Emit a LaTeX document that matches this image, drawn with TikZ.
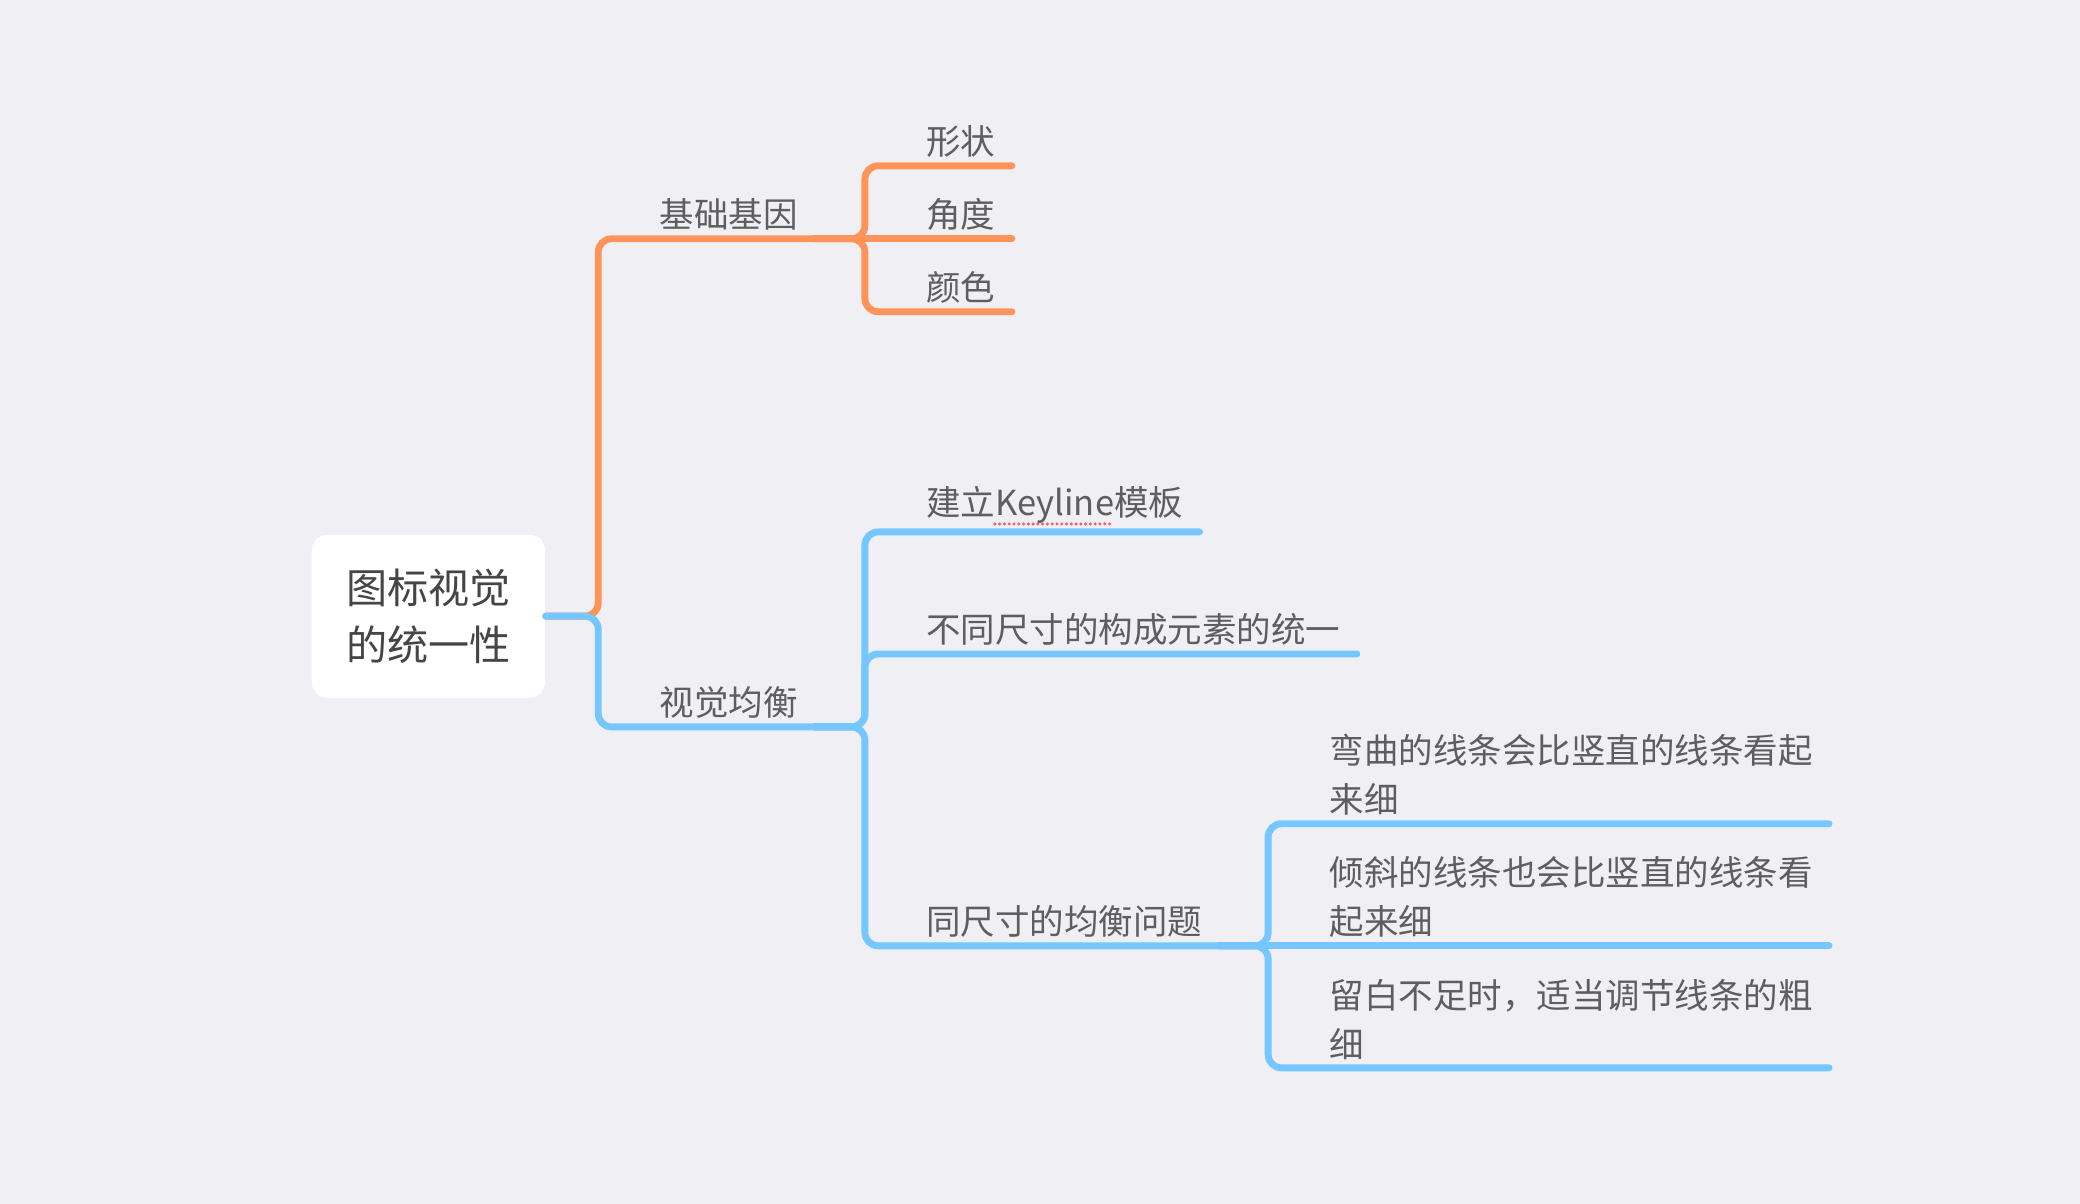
\documentclass[tikz,border=0pt]{standalone}
\usepackage{fontspec}
\setmainfont{Noto Sans CJK SC}
\definecolor{bgcol}{HTML}{EFEFF4}
\definecolor{orangeline}{HTML}{FF945B}
\definecolor{blueline}{HTML}{76C6FF}
\definecolor{textgray}{HTML}{5E5E5E}
\definecolor{rootgray}{HTML}{454545}
\definecolor{spellred}{HTML}{F0646E}

\begin{document}
\begin{tikzpicture}[x=0.5pt,y=-0.5pt,
		topic/.style={anchor=south west,inner xsep=0pt,inner ysep=3pt,text=textgray,
			font=\fontsize{13pt}{18.5pt}\selectfont,align=left},
		orangebranch/.style={draw=orangeline,line width=2.6pt,line cap=round,rounded corners=5pt},
		bluebranch/.style={draw=blueline,line width=2.6pt,line cap=round,rounded corners=5pt}
	]
	\fill[bgcol] (0,0) rectangle (1568,907.6);
	\useasboundingbox (0,0) rectangle (1568,907.6);

	\node[fill=white,rounded corners=6pt,minimum width=88pt,minimum height=61.5pt,text=rootgray,
		font=\fontsize{15.5pt}{21.5pt}\selectfont,align=center] (root) at (323,464.5) {图标视觉\\的统一性};

	% upper branch
	\node[topic] (jcjy) at (497,180) {基础基因};
	\node[topic] (xz) at (698,125) {形状};
	\node[topic] (jd) at (698,180) {角度};
	\node[topic] (ys) at (698,235) {颜色};

	% lower branch
	\node[topic] (sjjh) at (497,548) {视觉均衡};
	\node[topic] (kl) at (698,401) {建立Keyline模板};
	\node[topic] (ty) at (698,493) {不同尺寸的构成元素的统一};
	\node[topic] (jhwt) at (698,713) {同尺寸的均衡问题};
	\node[topic] (wq) at (1002,621) {弯曲的线条会比竖直的线条看起\\来细};
	\node[topic] (qx) at (1002,713) {倾斜的线条也会比竖直的线条看\\起来细};
	\node[topic] (lb) at (1002,805) {留白不足时，适当调节线条的粗\\细};

	\draw[orangebranch] (root.east) -| ([xshift=-23pt]jcjy.south west) -- ([xshift=6pt]jcjy.south east);
	\draw[orangebranch] ([xshift=6pt]jcjy.south east) -| ([xshift=-23pt]xz.south west) -- ([xshift=6pt]xz.south east);
	\draw[orangebranch] ([xshift=6pt]jcjy.south east) -- ([xshift=6pt]jd.south east);
	\draw[orangebranch] ([xshift=6pt]jcjy.south east) -| ([xshift=-23pt]ys.south west) -- ([xshift=6pt]ys.south east);

	\draw[bluebranch] (root.east) -| ([xshift=-23pt]sjjh.south west) -- ([xshift=6pt]sjjh.south east);
	\draw[bluebranch] ([xshift=6pt]sjjh.south east) -| ([xshift=-23pt]kl.south west) -- ([xshift=6pt]kl.south east);
	\draw[bluebranch] ([xshift=6pt]sjjh.south east) -| ([xshift=-23pt]ty.south west) -- ([xshift=6pt]ty.south east);
	\draw[bluebranch] ([xshift=6pt]sjjh.south east) -| ([xshift=-23pt]jhwt.south west) -- ([xshift=6pt]jhwt.south east);
	\draw[bluebranch] ([xshift=6pt]jhwt.south east) -| ([xshift=-23pt]wq.south west) -- ([xshift=6pt]wq.south east);
	\draw[bluebranch] ([xshift=6pt]jhwt.south east) -- ([xshift=6pt]qx.south east);
	\draw[bluebranch] ([xshift=6pt]jhwt.south east) -| ([xshift=-23pt]lb.south west) -- ([xshift=6pt]lb.south east);

	\draw[spellred,line width=1.3pt,line cap=round,dash pattern=on 0pt off 1.8pt]
		([xshift=26pt,yshift=3pt]kl.south west) -- ++(44pt,0pt);
\end{tikzpicture}
\end{document}
